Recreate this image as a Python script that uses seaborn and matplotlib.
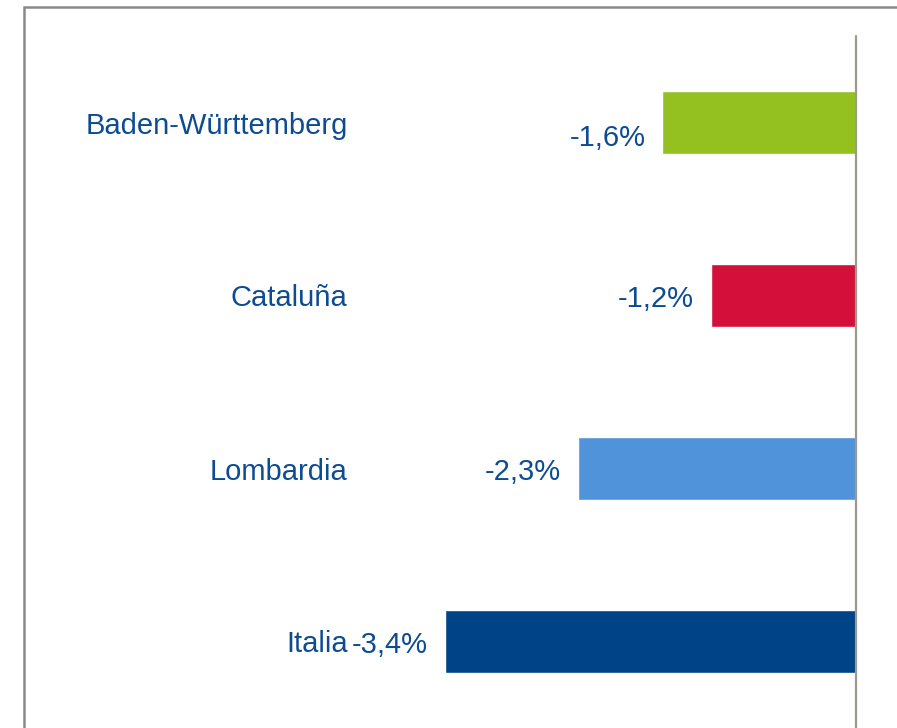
import matplotlib
matplotlib.use('Agg')
import matplotlib.pyplot as plt
import matplotlib.patches as mpatches
import pandas as pd
import seaborn as sns

regions = ['Baden-Württemberg', 'Cataluña', 'Lombardia', 'Italia']
change = [-1.6, -1.2, -2.3, -3.4]
value_labels = ['-1,6%', '-1,2%', '-2,3%', '-3,4%']
colors = ['#94C11F', '#D4103A', '#5093DA', '#004488']

text_color = '#0D4C92'

sns.set_style('white')
plt.rcParams['font.family'] = ['Liberation Sans', 'DejaVu Sans']

df = pd.DataFrame({'region': regions, 'change': change})

fig = plt.figure(figsize=(8.97, 7.28), dpi=100)
W, H = 897, 728
ax = fig.add_axes([360 / W, 0, (856 - 360) / W, (H - 36) / H])

sns.barplot(data=df, x='change', y='region', hue='region', palette=colors,
            orient='h', width=0.36, legend=False, ax=ax, saturation=1)

ax.set_xlim(-4.1, 0)
ax.set_ylim(3.5, -0.5)
ax.set_xlabel('')
ax.set_ylabel('')
ax.set_xticks([])
ax.tick_params(axis='y', length=0, pad=9, labelsize=21, labelcolor=text_color)
for s in ax.spines.values():
    s.set_visible(False)

ax.axvline(0, color='#9A9A90', lw=1.6, clip_on=False)

for i, (v, lab) in enumerate(zip(change, value_labels)):
    dy = -11 if i == 0 else -2.5
    ax.annotate(lab, xy=(v, i), xytext=(-12, dy), textcoords='offset points',
                ha='right', va='center', fontsize=21, color=text_color)

# gray frame around the chart
fig.patches.append(mpatches.Rectangle((24 / W, -0.1), 1.2, (H - 7) / H + 0.1,
                                      transform=fig.transFigure, fill=False,
                                      edgecolor='#8A8A8A', lw=1.8))

fig.savefig('out.png', dpi=100)
